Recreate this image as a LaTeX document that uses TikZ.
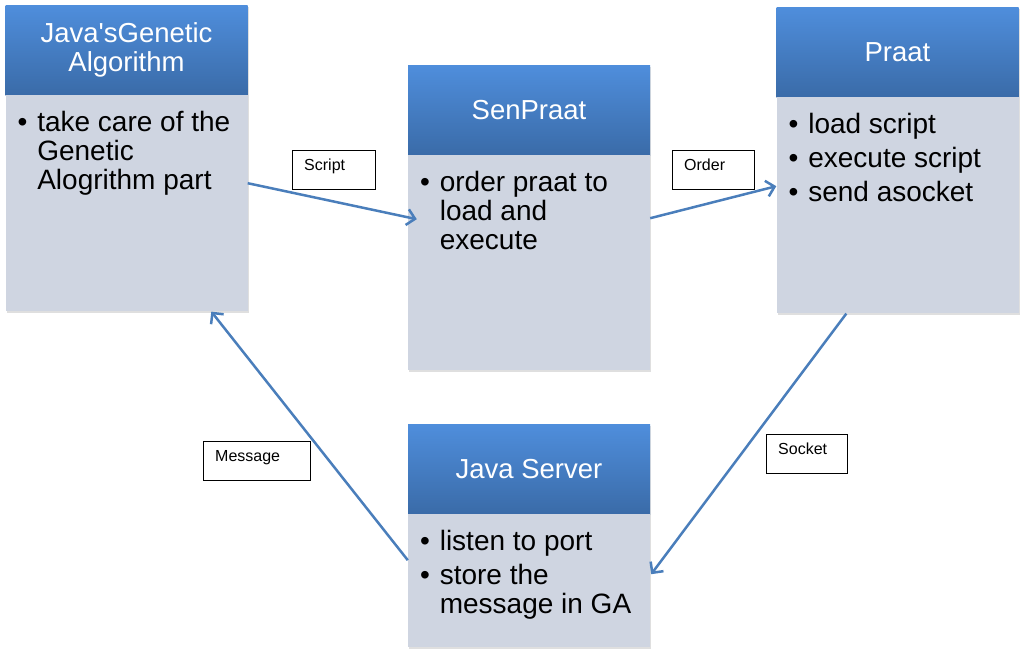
\documentclass[tikz,border=0pt]{standalone}
\usepackage{fontspec}
\setmainfont{Liberation Sans}
\usetikzlibrary{arrows.meta,shadows,positioning}
\definecolor{headtop}{HTML}{4F8EDC}
\definecolor{headbot}{HTML}{3A6BA8}
\definecolor{bodyfill}{HTML}{CFD5E1}
\definecolor{flowblue}{HTML}{4A7EBB}

\begin{document}
\begin{tikzpicture}[x=1pt,y=-1pt,
        head/.style={top color=headtop, bottom color=headbot, text=white,
            font=\fontsize{27.5}{29}\selectfont, align=center, inner sep=0pt,
            minimum width=242pt, minimum height=90pt,
            drop shadow={opacity=0.25, shadow xshift=1pt, shadow yshift=-2pt}},
        body/.style={fill=bodyfill, inner sep=0pt, minimum width=242pt,
            drop shadow={opacity=0.25, shadow xshift=1pt, shadow yshift=-2pt}},
        items/.style={anchor=north west, inner sep=0pt, align=left,
            font=\fontsize{28}{29}\selectfont},
        tag/.style={draw, fill=white, anchor=north west, text width=#1,
            align=left, font=\fontsize{16}{18}\selectfont,
            inner xsep=12pt, inner ysep=0pt, text height=20pt, text depth=19pt},
        flow/.style={draw=flowblue, line width=2.5pt,
            -{Straight Barb[length=8pt,width=16pt]}}]
            \useasboundingbox (0,0) rectangle (1023,653);

            % Boxes
            \foreach \n/\x/\y/\h/\t in {gen/126.5/50/216/{Java\textquotesingle sGenetic\\Algorithm},
                    sen/529/110/215/SenPraat, praat/897.5/52/216/Praat,
                    srv/529/469/133/Java Server} {
                \node[head] (\n-head) at (\x,\y) {\t};
                \node[body, minimum height=\h pt, below=0pt of \n-head] (\n-body) {};
            }

            % Bullet lists
            \node[items] (gen-text) at ([xshift=12pt,yshift=-16pt]gen-body.north west)
                {\begin{tabular}{@{}l@{\hspace{10pt}}l@{}}
                 •&take care of the\\ &Genetic\\ &Alogrithm part\end{tabular}};
            \node[items] (sen-text) at ([xshift=12pt,yshift=-16pt]sen-body.north west)
                {\begin{tabular}{@{}l@{\hspace{10pt}}l@{}}
                 •&order praat to\\ &load and\\ &execute\end{tabular}};
            \node[items] (praat-text) at ([xshift=12pt,yshift=-16pt]praat-body.north west)
                {\begin{tabular}{@{}l@{\hspace{10pt}}l@{}}
                 •&load script\\[5pt] •&execute script\\[5pt] •&send asocket\end{tabular}};
            \node[items] (srv-text) at ([xshift=12pt,yshift=-16pt]srv-body.north west)
                {\begin{tabular}{@{}l@{\hspace{10pt}}l@{}}
                 •&listen to port\\[5pt] •&store the\\ &message in GA\end{tabular}};

            % Arrows
            \draw[flow] ([yshift=-88pt]gen-body.north east) -- ([xshift=9pt,yshift=-64pt]sen-body.north west);
            \draw[flow] ([yshift=-63pt]sen-body.north east) -- ([yshift=-89pt]praat-body.north west);
            \draw[flow] ([xshift=70pt]praat-body.south west) -- ([xshift=1pt,yshift=-60pt]srv-body.north east);
            \draw[flow] ([yshift=-46pt]srv-body.north west) -- ([xshift=206pt]gen-body.south west);

            % Labels
            \node[tag=59pt] (script) at (292,150) {Script};
            \node[tag=58pt] (order) at (672,150) {Order};
            \node[tag=83pt] (message) at (203,441) {Message};
            \node[tag=57pt] (socket) at (766,434) {Socket};
        \end{tikzpicture}
\end{document}
